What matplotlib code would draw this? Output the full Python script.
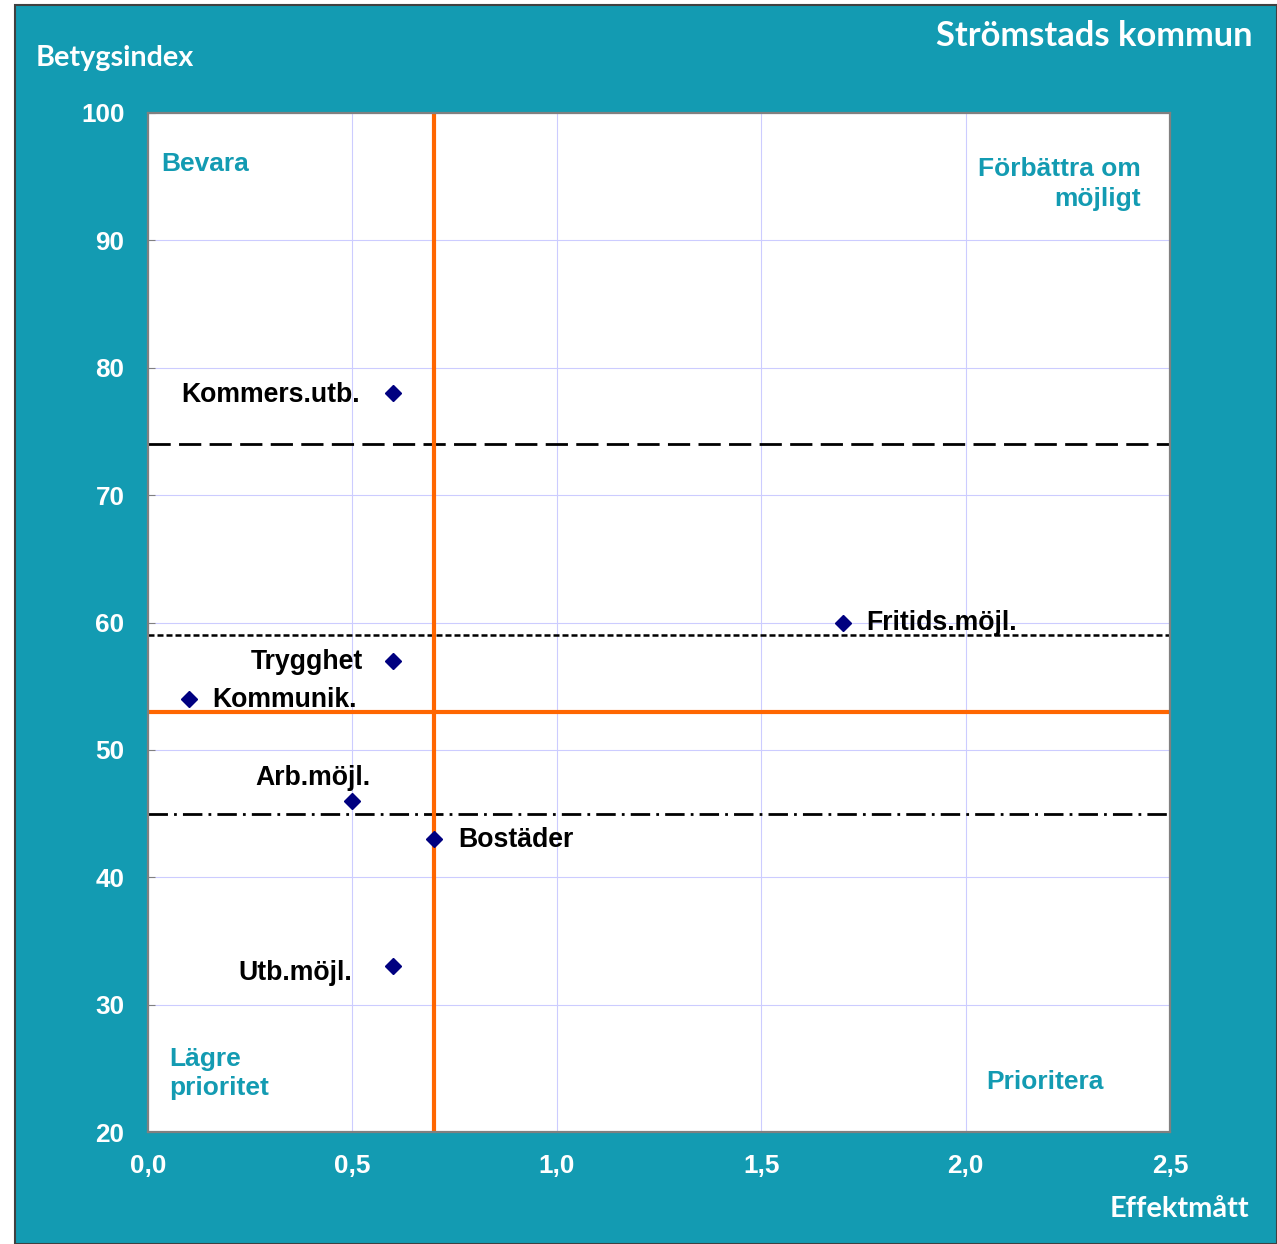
import matplotlib
matplotlib.use("Agg")
import matplotlib.pyplot as plt
from matplotlib.patches import Rectangle

# data: effekt (x) and betygsindex (y)
names = ['Kommers.utb.', 'Fritids.möjl.', 'Trygghet', 'Kommunik.', 'Arb.möjl.', 'Bostäder', 'Utb.möjl.']
effekt = [0.6, 1.7, 0.6, 0.1, 0.5, 0.7, 0.6]
betyg = [78, 60, 57, 54, 46, 43, 33]
# label offsets in pixels and alignment
offsets = [(-33, -2, 'right'), (23, -1, 'left'), (-30, -1, 'right'), (23, -1, 'left'),
           (18, 23, 'right'), (24, -1, 'left'), (-41, -7, 'right')]

mid_x = 0.7
mid_y = 53
line_long = 74
line_short = 59
line_dashdot = 45

xticks = [0.0, 0.5, 1.0, 1.5, 2.0, 2.5]
xticklabels = ['0,0', '0,5', '1,0', '1,5', '2,0', '2,5']
yticks = [20, 30, 40, 50, 60, 70, 80, 90, 100]

teal = '#139BB2'
arial = 'Liberation Sans'
calibri = 'Lato'

fig = plt.figure(figsize=(12.77, 12.44), dpi=100, facecolor='white')
fig.patches.append(Rectangle((15/1277, 0), 1 - 15/1277, 1 - 5/1244, transform=fig.transFigure,
                             facecolor=teal, edgecolor='#404040', linewidth=1.5, zorder=-10))

ax = fig.add_axes([148/1277, 1 - 1132/1244, (1170-148)/1277, (1132-113)/1244])
ax.set_zorder(1)
ax.set_facecolor('white')
ax.set_xlim(0, 2.5)
ax.set_ylim(20, 100)
ax.set_xticks(xticks)
ax.set_xticklabels(xticklabels)
ax.set_yticks(yticks)
ax.grid(True, color='#CCCCFF', linewidth=0.8)
ax.set_axisbelow(True)
for s in ax.spines.values():
    s.set_color('#808080')
    s.set_linewidth(1.6)
ax.tick_params(axis='y', direction='in', length=5, color='#808080', pad=17)
ax.tick_params(axis='x', length=0, pad=16)
for lab in ax.get_xticklabels() + ax.get_yticklabels():
    lab.set_fontfamily(arial)
    lab.set_fontweight('bold')
    lab.set_fontsize(18.8)
    lab.set_color('white')

# reference lines
ax.axhline(line_long, color='black', linewidth=2, linestyle=(0, (8, 3)))
ax.axhline(line_short, color='black', linewidth=1.8, linestyle=(0, (2.4, 1.2)))
ax.axhline(line_dashdot, color='black', linewidth=2, linestyle=(0, (7, 2.2, 1, 2.2)))
ax.axvline(mid_x, color='#FF6600', linewidth=3)
ax.axhline(mid_y, color='#FF6600', linewidth=3)

ax.plot(effekt, betyg, linestyle='none', marker='D', markersize=8, color='#000080', zorder=5)
for n, x, y, (dx, dy, ha) in zip(names, effekt, betyg, offsets):
    ax.annotate(n, (x, y), xytext=(dx, dy), textcoords='offset pixels', ha=ha, va='center',
                fontfamily=arial, fontweight='bold', fontsize=19.2, color='black', zorder=6)

# quadrant labels
qkw = dict(fontfamily=arial, fontweight='bold', fontsize=19, color=teal)
ax.text(0.032, 96.0, 'Bevara', ha='left', va='center', **qkw)
ax.text(2.429, 94.4, 'Förbättra om\nmöjligt', ha='right', va='center', multialignment='right',
        linespacing=1.32, **qkw)
ax.text(0.051, 24.6, 'Lägre\nprioritet', ha='left', va='center', linespacing=1.3, **qkw)
ax.text(2.05, 23.95, 'Prioritera', ha='left', va='center', **qkw)

fig.text(1253/1277, 1 - 36/1244, 'Strömstads kommun', ha='right', va='center',
         fontfamily=calibri, fontweight='bold', fontsize=24.8, color='white')
fig.text(36/1277, 1 - 58/1244, 'Betygsindex', ha='left', va='center',
         fontfamily=calibri, fontweight='bold', fontsize=20.7, color='white')
fig.text(1249/1277, 1 - 1209/1244, 'Effektmått', ha='right', va='center',
         fontfamily=calibri, fontweight='bold', fontsize=20.8, color='white')

fig.savefig('out.png', dpi=100, facecolor=fig.get_facecolor())
